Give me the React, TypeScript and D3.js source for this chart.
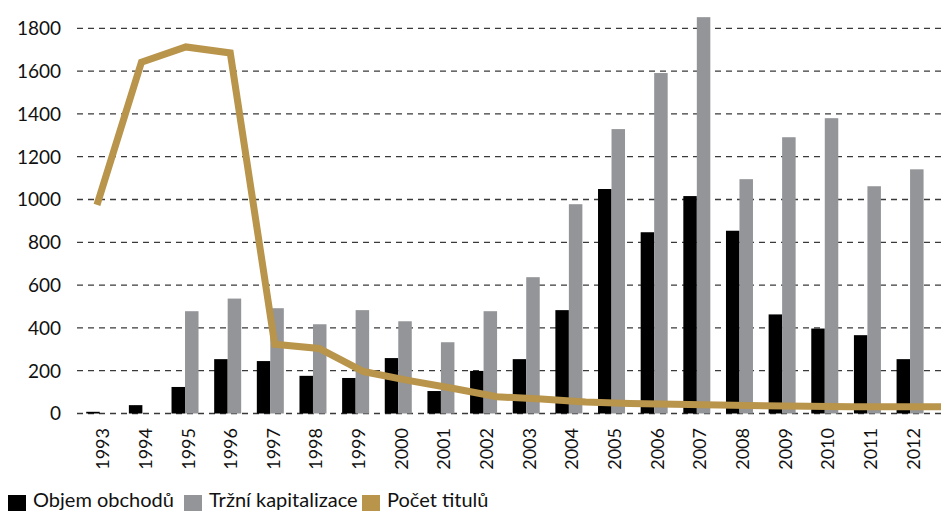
import React from "react";
import * as d3 from "d3";

const years = [
  "1993", "1994", "1995", "1996", "1997", "1998", "1999", "2000", "2001", "2002",
  "2003", "2004", "2005", "2006", "2007", "2008", "2009", "2010", "2011", "2012",
];

// Objem obchodů
const objem = [8, 39, 124, 254, 245, 176, 166, 259, 105, 199, 254, 483, 1049, 847, 1016, 854, 463, 397, 366, 254];
// Tržní kapitalizace
const kapitalizace = [0, 0, 478, 537, 492, 417, 483, 431, 333, 478, 637, 978, 1329, 1591, 1852, 1095, 1291, 1380, 1062, 1141];
// Počet titulů
const tituly = [975, 1642, 1713, 1685, 324, 304, 196, 155, 118, 78, 68, 54, 47, 43, 40, 36, 34, 32, 31, 31];

const yTicks = [0, 200, 400, 600, 800, 1000, 1200, 1400, 1600, 1800];

const legendItems = [
  { label: "Objem obchodů", color: "#000000" },
  { label: "Tržní kapitalizace", color: "#939598" },
  { label: "Počet titulů", color: "#B9944B" },
];

const W = 946;
const H = 511;
const FONT = "Lato, 'Open Sans', sans-serif";

export default function App() {
  const y = d3.scaleLinear().domain([0, 1800]).range([413.5, 28.3]);

  const x = d3.scaleBand<string>().domain(years).range([78.4, 931.4]).paddingInner(0).paddingOuter(0);
  const step = x.step();
  const barW = 13.5;

  // the line series is laid out on its own point positions
  const xLine = d3.scalePoint<string>().domain(years).range([97, 941]);

  const line = d3
    .line<number>()
    .x((_d, i) => xLine(years[i]) as number)
    .y((d) => y(d));

  return (
    <svg width={W} height={H} style={{ position: "absolute", left: 0, top: 0, display: "block" }}>
      <rect x={0} y={0} width={W} height={H} fill="#fff" />
      {/* gridlines */}
      {yTicks.map((t) => (
        <g key={t}>
          <line
            x1={77}
            x2={W}
            y1={y(t)}
            y2={y(t)}
            stroke="#3a3a3a"
            strokeWidth={1.3}
            strokeDasharray="6,5"
          />
          <text
            x={61}
            y={y(t)}
            dy="0.36em"
            textAnchor="end"
            fontFamily={FONT}
            fontSize={19}
            fill="#111"
          >
            {t}
          </text>
        </g>
      ))}

      {/* bars */}
      {years.map((yr, i) => {
        const cx = (x(yr) as number) + step / 2;
        return (
          <g key={yr}>
            {objem[i] > 0 && (
              <rect x={cx - barW} y={y(objem[i])} width={barW} height={y(0) - y(objem[i])} fill="#000" />
            )}
            {kapitalizace[i] > 0 && (
              <rect x={cx} y={y(kapitalizace[i])} width={barW} height={y(0) - y(kapitalizace[i])} fill="#939598" />
            )}
          </g>
        );
      })}

      {/* line */}
      <path
        d={line(tituly) ?? ""}
        fill="none"
        stroke="#B9944B"
        strokeWidth={7}
        strokeLinejoin="miter"
        strokeLinecap="butt"
      />

      {/* x labels */}
      {years.map((yr) => {
        const cx = (x(yr) as number) + step / 2 + 3;
        return (
          <text
            key={yr}
            transform={`translate(${cx},428) rotate(-90)`}
            textAnchor="end"
            dy="0.36em"
            fontFamily={FONT}
            fontSize={18}
            fill="#111"
          >
            {yr}
          </text>
        );
      })}

      {/* legend */}
      {(() => {
        const xs = [8, 184, 362];
        return legendItems.map((it, i) => (
          <g key={it.label}>
            <rect x={xs[i]} y={495} width={18} height={18} fill={it.color} />
            <text x={xs[i] + 25} y={507} fontFamily={FONT} fontSize={20} fill="#111">
              {it.label}
            </text>
          </g>
        ));
      })()}
    </svg>
  );
}
